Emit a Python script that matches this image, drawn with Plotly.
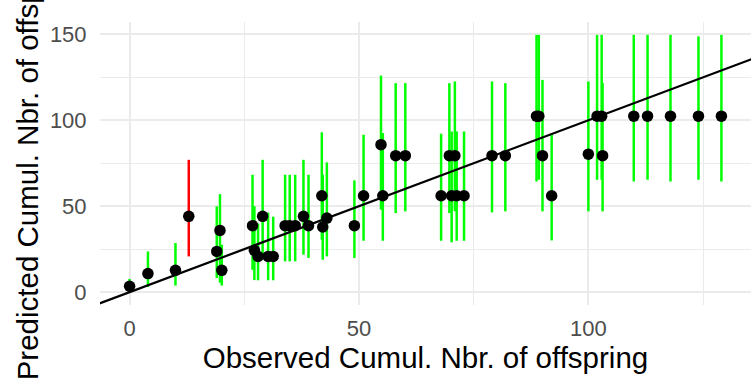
import plotly.graph_objects as go

# Observed vs predicted cumulative number of offspring, with prediction intervals
observed = [0.0, 4.0, 10.0, 12.9, 19.0, 19.7, 20.1, 26.8, 27.2, 28.0, 29.0, 30.2, 31.3,
            33.9, 34.9, 36.1, 37.9, 39.0, 41.9, 42.1, 43.0, 49.0, 51.0, 54.8, 55.2,
            58.0, 60.1, 67.9, 69.7, 70.2, 70.9, 71.3, 72.9, 79.0, 81.9, 88.7, 89.2,
            90.0, 92.0, 100.0, 101.9, 102.9, 103.1, 109.9, 112.9, 117.9, 124.0, 129.0]
predicted = [3.4, 10.8, 12.7, 44.1, 23.7, 35.9, 12.7, 38.7, 24.3, 20.8, 44.1, 20.8, 20.8,
             38.7, 38.7, 38.7, 44.1, 38.7, 56.1, 37.9, 43.1, 38.7, 56.1, 85.8, 56.1,
             79.4, 79.4, 56.1, 79.4, 56.1, 79.4, 56.1, 56.1, 79.4, 79.4, 102.4, 102.4,
             79.4, 56.1, 80.3, 102.4, 102.4, 79.4, 102.4, 102.4, 102.4, 102.4, 102.4]
lower = [0.0, 3.0, 3.8, 20.8, 8.2, 5.5, 3.8, 13.0, 7.0, 6.9, 22.0, 6.9, 6.9,
         17.9, 17.9, 17.9, 21.8, 19.9, 30.5, 18.9, 20.8, 19.9, 29.9, 48.0, 29.9,
         46.0, 47.0, 29.9, 46.0, 29.0, 47.0, 29.9, 29.9, 46.4, 47.0, 64.4, 65.4,
         47.0, 30.1, 47.0, 65.4, 65.4, 47.0, 64.4, 65.4, 64.4, 65.4, 64.4]
upper = [7.7, 23.7, 28.6, 77.0, 49.9, 57.0, 27.6, 68.3, 50.0, 40.0, 77.0, 46.2, 43.9,
         68.3, 68.3, 68.3, 77.0, 68.3, 93.0, 68.3, 75.5, 65.0, 91.6, 126.0, 92.6,
         121.6, 121.6, 92.2, 121.6, 93.5, 122.6, 93.5, 93.5, 122.6, 121.6, 149.7, 149.7,
         123.5, 92.6, 122.6, 149.7, 149.7, 121.6, 149.7, 149.7, 149.7, 148.8, 149.7]

abline_intercept = 0.0
abline_slope = 1.0

x_ticks = [0, 50, 100]
y_ticks = [0, 50, 100, 150]
x_title = "Observed Cumul. Nbr. of offspring"
y_title = "Predicted Cumul. Nbr. of offspring"

# build segments (green if observed inside interval, red otherwise)
gx, gy, rx, ry = [], [], [], []
for o, lo, hi in zip(observed, lower, upper):
    if lo <= o <= hi:
        gx += [o, o, None]; gy += [lo, hi, None]
    else:
        rx += [o, o, None]; ry += [lo, hi, None]

# ggplot-like expanded ranges (5%)
xmin, xmax = min(observed), max(observed)
ymin, ymax = min(lower), max(upper)
xpad = 0.05 * (xmax - xmin)
ypad = 0.05 * (ymax - ymin)
xr = [xmin - xpad, xmax + xpad]
yr = [ymin - ypad, ymax + ypad]

line_x = [xr[0] - 5, xr[1] + 5]
line_y = [abline_intercept + abline_slope * v for v in line_x]

fig = go.Figure()
fig.add_trace(go.Scatter(x=gx, y=gy, mode="lines", line=dict(color="#00FF00", width=2.5),
                         hoverinfo="skip", showlegend=False))
fig.add_trace(go.Scatter(x=rx, y=ry, mode="lines", line=dict(color="#FF0000", width=2.5),
                         hoverinfo="skip", showlegend=False))
fig.add_trace(go.Scatter(x=line_x, y=line_y, mode="lines", line=dict(color="black", width=2.2),
                         hoverinfo="skip", showlegend=False))
fig.add_trace(go.Scatter(x=observed, y=predicted, mode="markers",
                         marker=dict(color="black", size=11.5, line=dict(width=0)),
                         showlegend=False))

font_family = "Liberation Sans, Arial, sans-serif"
fig.update_layout(
    width=751, height=383,
    margin=dict(l=100, r=0, t=22, b=78, autoexpand=False),
    paper_bgcolor="white", plot_bgcolor="white",
    font=dict(family=font_family),
    xaxis=dict(
        range=xr, tickvals=x_ticks, ticktext=[str(v) for v in x_ticks],
        showgrid=True, gridcolor="#EBEBEB", gridwidth=2, zeroline=False, showline=False,
        ticks="outside", ticklen=4, tickcolor="rgba(0,0,0,0)",
        tickfont=dict(size=22, color="#4D4D4D", family=font_family),
        minor=dict(tickvals=[25, 75, 125], showgrid=True, gridcolor="#EBEBEB", gridwidth=1, ticks=""),
        title=dict(text=x_title, standoff=6,
                   font=dict(size=29.5, color="black", family=font_family)),
        automargin=False,
    ),
    yaxis=dict(
        range=yr, tickvals=y_ticks, ticktext=[str(v) for v in y_ticks],
        showgrid=True, gridcolor="#EBEBEB", gridwidth=2, zeroline=False, showline=False,
        ticks="outside", ticklen=8, tickcolor="rgba(0,0,0,0)",
        tickfont=dict(size=22, color="#4D4D4D", family=font_family),
        minor=dict(tickvals=[25, 75, 125], showgrid=True, gridcolor="#EBEBEB", gridwidth=1, ticks=""),
        automargin=False,
    ),
    annotations=[dict(
        text=y_title, textangle=-90, showarrow=False,
        xref="paper", yref="paper", x=-0.112, y=0.515,
        xanchor="center", yanchor="middle",
        font=dict(size=29.5, color="black", family=font_family),
    )],
)

fig.write_html("out.html")
